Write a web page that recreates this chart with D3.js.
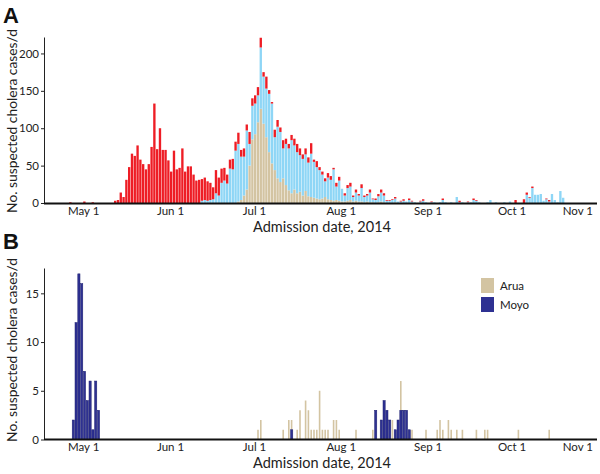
<!DOCTYPE html>
<html><head><meta charset="utf-8">
<script src="https://cdn.jsdelivr.net/npm/d3@7"></script>
<style>
html,body{margin:0;padding:0;background:#fff;}
svg{display:block;font-family:Lato,"Open Sans",sans-serif;}
</style></head><body>
<svg id="chart" width="600" height="474"></svg>
<script>
// ---------------- data ----------------
const monthTicks = ["2014-05-01","2014-06-01","2014-07-01","2014-08-01","2014-09-01","2014-10-01","2014-11-01"];
const monthTickLabels = ["May 1","Jun 1","Jul 1","Aug 1","Sep 1","Oct 1","Nov 1"];
const yTicksA = [0,50,100,150,200];
const yTicksB = [0,5,10,15];

// Panel A: daily suspected cases, three colour groups (each array starts at its own date)
const redStart = "2014-04-26";
const redCases = [1,0,0,0,0,
  2,0,0,1,0,0,0,0,0,0,0,
  3,4,14,8,31,48,66,63,77,58,
  52,45,52,75,133,72,100,71,71,57,
  42,70,45,47,73,42,49,49,38,30,
  31,29,30,26,23,16,31,24,19,17,
  12,12,14,12,15,9,11,8,16,10,
  11,11,13,6,16,5,2,10,9,6,
  11,7,6,7,9,11,9,6,8,7,
  14,3,8,4,4,4,6,5,2,5,
  5,0,3,4,5,2,4,2,5,2,
  2,4,1,2,3,4,3,1,1,1,
  2,0,1,2,0,2,1,0,0,1,
  2,0,0,1,0,0,0,2,0,0,
  0,0,0,2,0,0,1,0,2,1,
  0,0,0,0,0,0,0,0,0,0,
  0,0,0,4,0,0,5,3,1,2,
  0,0,0,0,1,2,0,0,0,0,0];
const blueStart = "2014-06-12";
const blueCases = [3,4,3,4,5,13,10,27,30,
  26,46,45,70,77,58,52,79,29,45,
  41,36,82,63,65,78,80,44,69,67,
  40,55,56,71,59,55,49,49,49,45,
  58,48,42,39,32,21,29,27,42,18,
  27,17,8,17,18,6,11,8,18,7,
  8,13,4,4,8,12,9,3,3,4,
  5,2,2,3,2,4,2,1,0,2,
  3,1,0,1,1,0,1,4,1,0,
  1,0,8,1,1,0,1,1,4,3,
  1,0,0,1,4,0,1,0,0,1,
  0,2,0,0,0,0,0,11,7,20,
  11,11,12,3,5,2,12,4,1,16,7];
const tanStart = "2014-06-25";
const tanCases = [2,4,10,18,50,85,
  92,108,126,106,88,68,53,44,33,28,
  33,24,17,13,18,13,15,10,16,9,
  8,7,6,5,6,8,5,4,3,4,
  3,2,2,3,4,2,3,2,2,1,
  2,1,1,0,1,2,1,0,0,0,1];

// Panel B: Arua and Moyo districts
const aruaDates = ["2014-07-02","2014-07-03","2014-07-11","2014-07-13","2014-07-14","2014-07-16","2014-07-17",
  "2014-07-19","2014-07-20","2014-07-21","2014-07-22","2014-07-23","2014-07-24","2014-07-25","2014-07-26",
  "2014-07-27","2014-07-29","2014-07-30","2014-07-31","2014-08-06","2014-08-12","2014-08-19","2014-08-22",
  "2014-08-26","2014-08-31","2014-09-04","2014-09-05","2014-09-06","2014-09-08","2014-09-09","2014-09-11",
  "2014-09-13","2014-09-18","2014-09-21","2014-09-22","2014-10-03","2014-10-14"];
const aruaCases = [1,2,1,2,2,1,3,
  4,3,1,1,1,5,1,1,
  1,2,2,1,1,1,2,6,
  1,1,1,2,1,2,1,1,
  1,1,1,1,1,1];
const moyoDates = ["2014-04-27","2014-04-28","2014-04-29","2014-04-30","2014-05-01","2014-05-02","2014-05-03",
  "2014-05-04","2014-05-05","2014-05-06","2014-07-14","2014-08-13","2014-08-15","2014-08-16","2014-08-17",
  "2014-08-18","2014-08-20","2014-08-21","2014-08-22","2014-08-23","2014-08-24","2014-08-25"];
const moyoCases = [2,12,17,16,7,4,6,
  1,6,3,1,3,2,4,3,
  2,1,2,3,3,3,1];
const legendLabels = ["Arua","Moyo"];

// ---------------- drawing ----------------
const colors = {red:"#EE1D25", blue:"#8ED6F6", tan:"#D3C4A2", arua:"#D3C4A2", moyo:"#2E3192"};
const svg = d3.select("#chart");
const parse = d3.utcParse("%Y-%m-%d");
const DAY = 864e5;
const x = d3.scaleUtc().domain([parse("2014-04-17"), parse("2014-11-01")]).range([44, 598.4]);
const step = x(parse("2014-05-02")) - x(parse("2014-05-01"));

function fit(sel, target){
  const n = sel.node(); const fs = parseFloat(sel.attr("font-size"));
  const w = n.getComputedTextLength(); sel.attr("font-size", fs*target/w);
}

// combine panel A series by date
const table = new Map();
function addSeries(start, arr, key){
  const s = parse(start).getTime();
  arr.forEach((v,i)=>{ const t = s + i*DAY; if(!table.has(t)) table.set(t,{date:new Date(t),tan:0,blue:0,red:0}); table.get(t)[key]=v; });
}
addSeries(redStart, redCases, "red");
addSeries(blueStart, blueCases, "blue");
addSeries(tanStart, tanCases, "tan");
const rows = Array.from(table.values()).sort((a,b)=>a.date-b.date);
const stack = d3.stack().keys(["tan","blue","red"])(rows);

function drawPanel(g, yScale, yTicks, bottom, titleCenter){
  const ya = g.append("g").attr("transform","translate(44,0)")
    .call(d3.axisLeft(yScale).tickValues(yTicks).tickSize(3).tickSizeOuter(0).tickPadding(2));
  ya.select(".domain").attr("stroke","#222").attr("stroke-width",1);
  ya.selectAll(".tick line").attr("stroke","#222");
  ya.selectAll(".tick text").attr("font-size",11.5).attr("fill","#222").attr("font-family","Lato, sans-serif");
  const xa = g.append("g").attr("transform",`translate(0,${bottom})`)
    .call(d3.axisBottom(x).tickValues(monthTicks.map(parse)).tickSize(0).tickPadding(3)
      .tickFormat((d,i)=>monthTickLabels[i]));
  xa.select(".domain").attr("stroke","#111").attr("stroke-width",2).attr("d",`M44,0H597`);
  xa.selectAll(".tick text").attr("font-size",11.5).attr("fill","#222").attr("font-family","Lato, sans-serif");
  xa.selectAll(".tick").filter((d,i)=>i===monthTicks.length-1).select("text").attr("text-anchor","end").attr("x",-6);
  const yt = g.append("text").attr("transform",`translate(17,${titleCenter}) rotate(-90)`)
    .attr("text-anchor","middle").attr("font-size",14).attr("fill","#222").text("No. suspected cholera cases/d");
  fit(yt,184);
  const xt = g.append("text").attr("x",322).attr("y",bottom+28).attr("text-anchor","middle")
    .attr("font-size",14).attr("fill","#222").text("Admission date, 2014");
  fit(xt,138);
}

// ---- Panel A ----
const yA = d3.scaleLinear().domain([0,222]).range([203,37]);
const gA = svg.append("g");
gA.selectAll("g.layer").data(stack).join("g").attr("class","layer")
  .attr("fill",d=>colors[d.key])
  .selectAll("rect").data(d=>d.filter(p=>p[1]>p[0])).join("rect")
  .attr("x",p=>x(p.data.date)).attr("width",step-0.45)
  .attr("y",p=>yA(p[1])).attr("height",p=>yA(p[0])-yA(p[1]));
drawPanel(gA, yA, yTicksA, 203.5, 121);
svg.append("text").attr("x",3).attr("y",23).attr("font-family","Liberation Sans, Arial, sans-serif")
  .attr("font-weight","bold").attr("font-size",22).attr("fill","#111").text("A");

// ---- Panel B ----
const yB = d3.scaleLinear().domain([0,17.6]).range([439.5,268]);
const gB = svg.append("g");
const arua = aruaDates.map((d,i)=>({date:parse(d),v:aruaCases[i]}));
const moyo = moyoDates.map((d,i)=>({date:parse(d),v:moyoCases[i]}));
gB.append("g").selectAll("rect").data(arua).join("rect")
  .attr("x",d=>x(d.date)+0.4).attr("width",step-1.2)
  .attr("y",d=>yB(d.v)).attr("height",d=>yB(0)-yB(d.v)).attr("fill",colors.arua);
gB.append("g").selectAll("rect").data(moyo).join("rect")
  .attr("x",d=>x(d.date)+0.2).attr("width",step-0.6)
  .attr("y",d=>yB(d.v)).attr("height",d=>yB(0)-yB(d.v)).attr("fill",colors.moyo)
  .attr("stroke","#1E2070").attr("stroke-width",0.5);
drawPanel(gB, yB, yTicksB, 439.5, 350);
svg.append("text").attr("x",3).attr("y",249).attr("font-family","Liberation Sans, Arial, sans-serif")
  .attr("font-weight","bold").attr("font-size",22).attr("fill","#111").text("B");

// legend
const lg = svg.append("g").attr("transform","translate(481,278)");
[colors.arua, colors.moyo].forEach((c,i)=>{
  lg.append("rect").attr("x",0).attr("y",i*19).attr("width",13).attr("height",15).attr("fill",c);
  lg.append("text").attr("x",19).attr("y",i*19+12).attr("font-size",11.5).attr("fill","#222").text(legendLabels[i]);
});
</script>
</body></html>
